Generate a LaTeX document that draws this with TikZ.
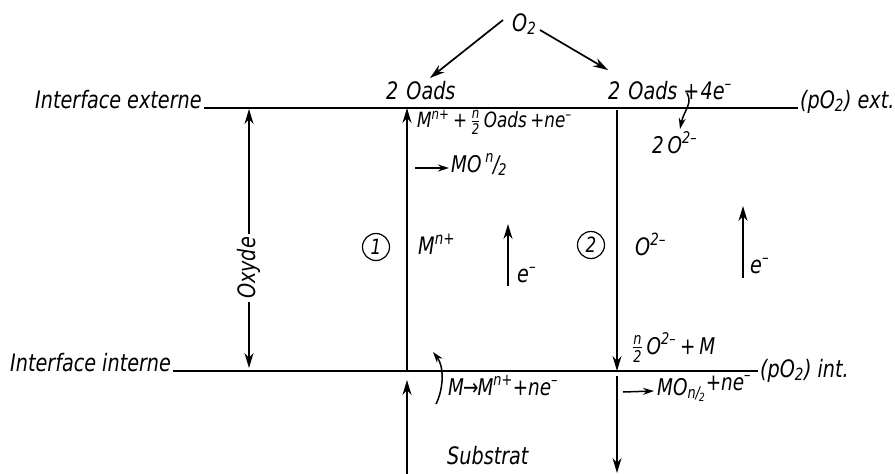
\documentclass[tikz,border=0pt]{standalone}
\usepackage{amsmath}
\usepackage{fontspec}
\setmainfont{DejaVu Sans}[FakeStretch=0.8]
\usetikzlibrary{arrows.meta}
\newcommand\hfr{\ensuremath{\frac{\text{\itshape n}}{\text{\itshape 2}}}}
\newcommand\mns{\textsuperscript{–}}
\begin{document}
\begin{tikzpicture}[x=1pt,y=-1pt,
  big/.style={font=\fontsize{24}{27}\selectfont\itshape, inner sep=0pt},
  sml/.style={font=\fontsize{23}{26}\selectfont\itshape, inner sep=0pt},
  iface/.style={line width=2pt},
  arr/.style={line width=1.7pt,-{Stealth[length=15pt,width=9pt]}},
  sarr/.style={line width=1.5pt,-{Stealth[length=11pt,width=7pt]}},
  num/.style={circle,draw,line width=1.2pt,minimum size=27pt,inner sep=0pt,font=\fontsize{21}{24}\selectfont\itshape}]
\useasboundingbox (0,0) rectangle (895,474);

% interface labels and lines
\node[big,anchor=base west] (ie) at (35,108) {Interface externe};
\node[big,anchor=base west] (pe) at (800,108) {(pO\textsubscript{2}) ext.};
\node[big,anchor=base west] (ii) at (10,371) {Interface interne};
\node[big,anchor=base west] (pi) at (760,377) {(pO\textsubscript{2}) int.};
\draw[iface] ([xshift=2pt]ie.base east) -- ([xshift=-2pt]pe.base west |- ie.base east);
\draw[iface] ([xshift=2pt]ii.base east) -- ([xshift=-2pt]pi.west |- ii.base east);

% crossing points
\coordinate (a1) at (407,108);
\coordinate (b1) at (407,371);
\coordinate (a2) at (617,110);
\coordinate (b2) at (617,371);
\coordinate (s1) at (407,474);
\coordinate (s2) at (617,376);
\coordinate (s3) at (617,473);

% vertical paths
\draw[arr] (b1) -- (a1);
\draw[arr] (a2) -- (b2);
\draw[arr] (s1) -- ([yshift=-9pt]b1);
\draw[arr] (s2) -- (s3);

% Oxyde
\node[big,rotate=90] (ox) at (249,268) {Oxyde};
\draw[arr] ([yshift=3pt]ox.east) -- ([yshift=-1pt]ox.east |- a1);
\draw[arr] ([yshift=-3pt]ox.west) -- ([yshift=3pt]ox.west |- b1);

% O2
\node[big,anchor=base west] (o2) at (512,31) {O\textsubscript{2}};
\node[big,anchor=base west] (oa1) at (386,99) {2\,\,Oads};
\node[big,anchor=base west] (oa2) at (608,99) {2\,\,Oads\kern6pt+\kern1pt4e\mns};
\draw[arr] ([xshift=-9pt,yshift=11pt]o2.base west) -- ([xshift=44pt,yshift=21pt]oa1.base west);
\draw[arr] ([xshift=28pt,yshift=1pt]o2.base west) -- ([yshift=29pt]oa2.base west);

% top reactions
\node[sml,font=\fontsize{21}{24}\selectfont\itshape,anchor=base west] (r1) at (417,127) {M\textsuperscript{n+}\,+\,\hfr\,Oads\,+ne\mns};
\node[sml,anchor=base west] (r2) at (451,172) {MO\,\textsuperscript{n}\kern-1pt/\kern-1pt\textsubscript{2}};
\coordinate (r2a) at (415,168);
\draw[sarr] (r2a) -- ([xshift=-2pt,yshift=4pt]r2.base west);
\node[sml,anchor=base west] (r3) at (652,153) {2\,O\textsuperscript{2–}};
\coordinate (c1) at (687,93);
\coordinate (c2) at (680,129);
\draw[sarr] (c1) .. controls (693,104) and (684,110) .. (c2);

% middle
\node[num] (n1) at (376,247) {1};
\node[big,anchor=base west] (m1) at (418,254) {M\textsuperscript{n+}};
\coordinate (e1b) at (508,286);
\coordinate (e1t) at (508,224);
\draw[arr] (e1b) -- (e1t);
\node[big,anchor=base west] (e1) at (517,282) {e\mns};
\node[num] (n2) at (591,245) {2};
\node[big,anchor=base west] (o2m) at (635,255) {O\textsuperscript{2–}};
\coordinate (e2b) at (743,278);
\coordinate (e2t) at (743,206);
\draw[arr] (e2b) -- (e2t);
\node[big,anchor=base west] (e2) at (750,273) {e\mns};

% bottom reactions
\node[sml,anchor=base west] (r4) at (632,354) {\hfr\,O\textsuperscript{2–}\,+\,M};
\node[sml,anchor=base west] (r5) at (448,395) {M\kern-1pt→\kern-1ptM\textsuperscript{n+}+ne\mns};
\coordinate (c3) at (436,404);
\coordinate (c4) at (433,352);
\draw[sarr] (c3) .. controls (444,388) and (444,366) .. (c4);
\node[sml,anchor=base west] (r6) at (657,395) {MO\textsubscript{n/\kern-1pt\textsubscript{2}}\raisebox{5pt}{+ne\mns}};
\coordinate (r6a) at (623,392);
\draw[sarr] (r6a) -- ([xshift=-3pt,yshift=4pt]r6.base west);

\node[big,anchor=base west] (sub) at (447,464) {Substrat};
\end{tikzpicture}
\end{document}
